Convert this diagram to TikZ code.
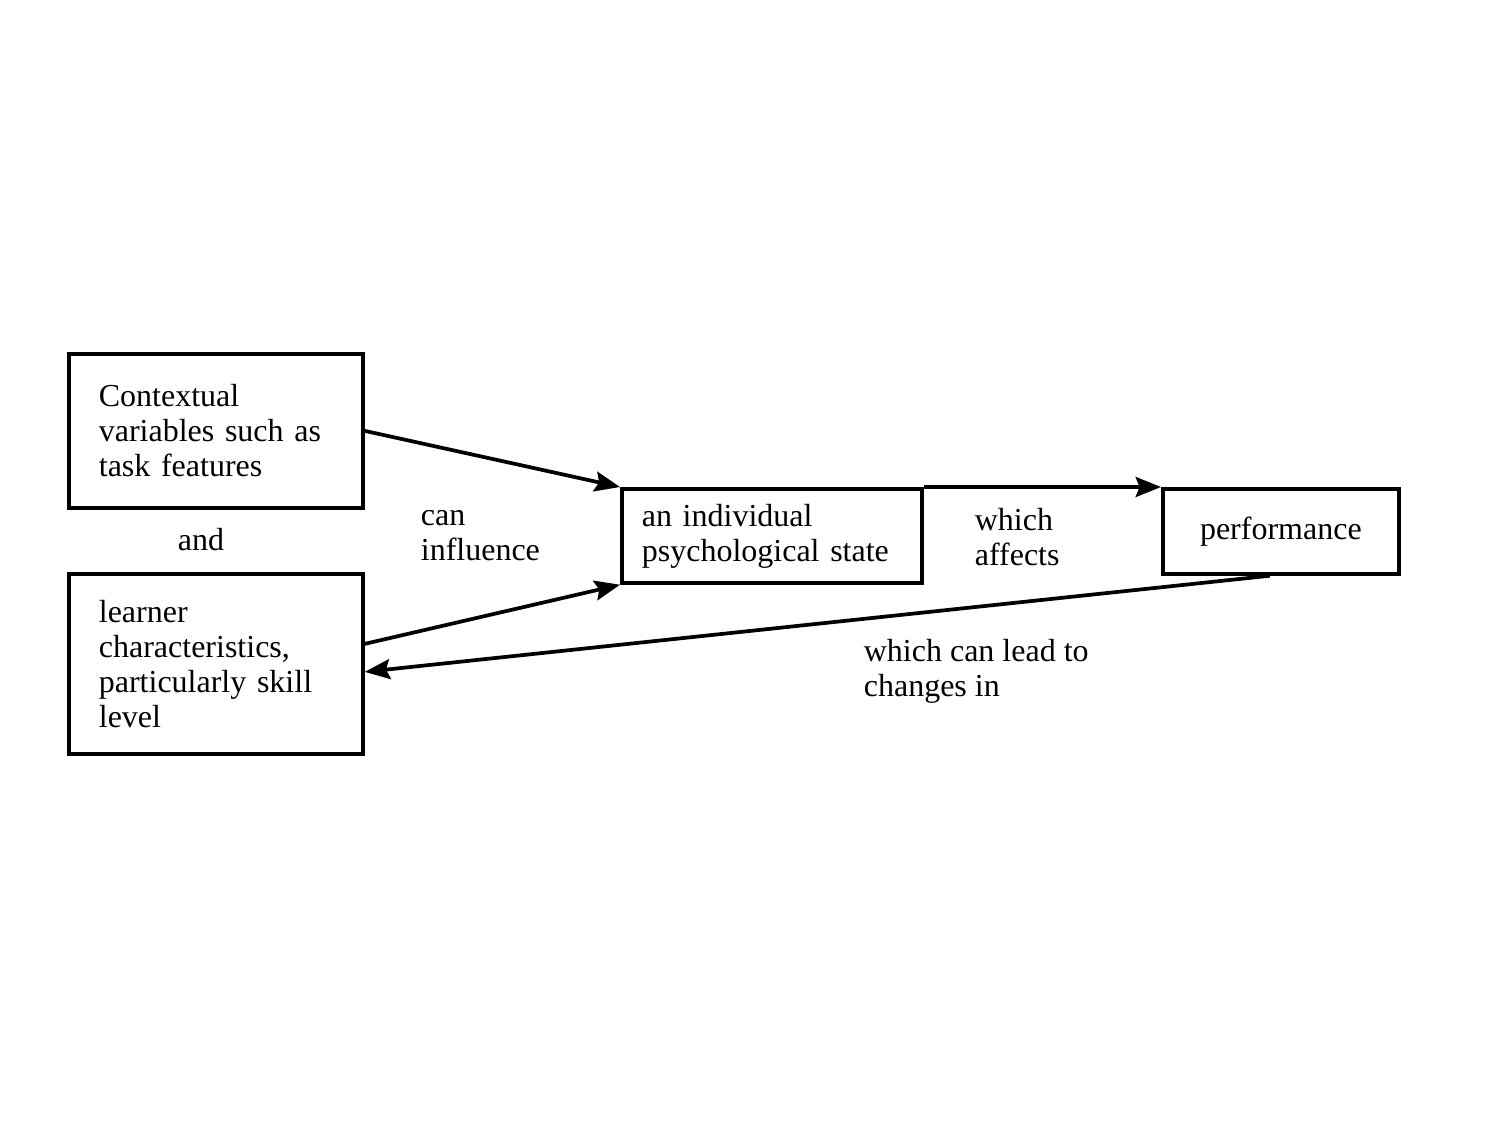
\documentclass[tikz,border=0pt]{standalone}
\usepackage{fontspec}
\setmainfont{Liberation Serif}
\usetikzlibrary{arrows.meta,calc}

\tikzset{every picture/.style={line width=2.8pt}}
\tikzset{
  stagebox/.style={draw, rectangle, line width=2.8pt, inner ysep=0pt, anchor=north west, align=left, font=\fontsize{24}{26.25}\selectfont},
  linktext/.style={inner sep=0pt, align=left, font=\fontsize{24}{26.25}\selectfont},
  fbarrow/.style={line width=2.8pt, -{Stealth[length=19pt,width=15pt,inset=3pt]}}
}

\begin{document}
\begin{tikzpicture}[x=0.75pt,y=0.75pt,yscale=-1,xscale=1]
	\useasboundingbox (0,0) rectangle (1504,1124);

	%Shape: Rectangle
	\node [stagebox, minimum width=220.5pt, minimum height=115.5pt, inner xsep=22.5pt, text width=175.5pt] (ctx) at (67,352) {Contextual\\variables such as\\task features};
	%Shape: Rectangle
	\node [stagebox, minimum width=220.5pt, minimum height=135pt, inner xsep=22.5pt, text width=175.5pt] (lrn) at (67,572) {learner\\characteristics,\\particularly skill\\level};
	%Shape: Rectangle
	\node [stagebox, minimum width=225pt, minimum height=70.5pt, inner xsep=15pt, text width=195pt] (state) at (620,487) {an individual\\psychological state};
	%Shape: Rectangle
	\node [stagebox, align=center, minimum width=177pt, minimum height=63.75pt] (perf) at (1161,487) {performance};

	%Straight Lines
	\draw [fbarrow] (ctx.east) -- (state.north west);
	%Straight Lines
	\draw [fbarrow] ($(lrn.east)+(0,-20)$) -- (state.south west);
	%Straight Lines
	\draw [fbarrow] (state.north east) -- (perf.north west);
	%Straight Lines
	\draw [fbarrow] ($(perf.south)+(-11,0)$) -- ($(lrn.east)+(0,8)$);

	% Text Node
	\node [linktext] (and) at (201,540) {and};
	% Text Node
	\node [linktext, anchor=west] (influence) at (419,536) {can\\influence};
	% Text Node
	\node [linktext, anchor=west] (affects) at (973,537) {which\\affects};
	% Text Node
	\node [linktext, anchor=west] (leadto) at (862,671) {which can lead to\\changes in};

\end{tikzpicture}
\end{document}
